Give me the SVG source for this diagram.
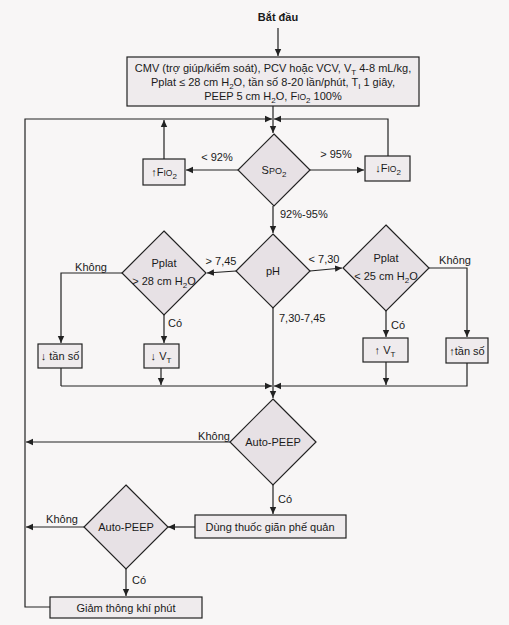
<svg xmlns="http://www.w3.org/2000/svg" width="509" height="625" viewBox="0 0 509 625">
<style>
text{font-family:"Liberation Sans","Noto Sans",sans-serif;font-size:11px;fill:#1a1a1a}
.c{text-anchor:middle}
.b{font-weight:bold}
.dia{fill:#e7e1e5;stroke:#222;stroke-width:1.2}
.box{fill:#efebed;stroke:#222;stroke-width:1.2}
.ln{fill:none;stroke:#222;stroke-width:1.2;marker-end:url(#ah)}
.pl{fill:none;stroke:#222;stroke-width:1.2}
</style>
<defs>
<marker id="ah" markerWidth="8" markerHeight="8" refX="7" refY="4" orient="auto" markerUnits="userSpaceOnUse">
<path d="M0,0.8 L7,4 L0,7.2 z" fill="#222"/>
</marker>
</defs>
<rect width="509" height="625" fill="#f8f6f6"/>

<g id="connectors">
<path class="ln" d="M278 28 V56"/>
<path class="ln" d="M273 106 V133"/>
<path class="ln" d="M50 607 H25 V119 H272"/>
<path class="ln" d="M164 159 V120"/>
<path class="ln" d="M388 156 V119 H274"/>
<path class="ln" d="M238 170 H186"/>
<path class="ln" d="M310 170 H364"/>
<path class="ln" d="M273 206 V233"/>
<path class="ln" d="M236 271 L207 273"/>
<path class="ln" d="M310 271 L342 268"/>
<path class="ln" d="M122 273 H61 V343"/>
<path class="ln" d="M164 315 V343"/>
<path class="pl" d="M61 368 V386"/>
<path class="ln" d="M61 386 H272"/>
<path class="ln" d="M161 368 V385"/>
<path class="ln" d="M429 268 H467 V337"/>
<path class="ln" d="M386 311 V337"/>
<path class="ln" d="M386 362 V385"/>
<path class="ln" d="M467 363 V386 H274"/>
<path class="ln" d="M273 308 V398"/>
<path class="ln" d="M230 442 H26"/>
<path class="ln" d="M273 485 V514"/>
<path class="ln" d="M195 527 H168"/>
<path class="ln" d="M85 527 H26"/>
<path class="ln" d="M126 569 V596"/>
<text class="c" x="217" y="161">&lt; 92%</text>
<text class="c" x="336" y="158">&gt; 95%</text>
<text x="280" y="218">92%-95%</text>
<text class="c" x="221" y="265">&gt; 7,45</text>
<text class="c" x="324" y="263">&lt; 7,30</text>
<text class="c" x="91" y="271">Không</text>
<text class="c" x="455" y="264">Không</text>
<text x="168" y="327">Có</text>
<text x="391" y="329">Có</text>
<text x="279" y="322">7,30-7,45</text>
<text class="c" x="214" y="440">Không</text>
<text x="278" y="503">Có</text>
<text class="c" x="62" y="523">Không</text>
<text x="132" y="584">Có</text>
</g>

<g id="start"><text class="c b" x="278" y="21">Bắt đầu</text></g>

<g id="cmv">
<rect class="box" x="127" y="57" width="292" height="49"/>
<text class="c" x="273" y="72">CMV (trợ giúp/kiểm soát), PCV hoặc VCV, V<tspan dy="3" font-size="8">T</tspan><tspan dy="-3"> 4-8 mL/kg,</tspan></text>
<text class="c" x="273" y="86">Pplat ≤ 28 cm H<tspan dy="3" font-size="8">2</tspan><tspan dy="-3">O, tần số 8-20 lần/phút, T</tspan><tspan dy="3" font-size="8">I</tspan><tspan dy="-3"> 1 giây,</tspan></text>
<text class="c" x="273" y="100">PEEP 5 cm H<tspan dy="3" font-size="8">2</tspan><tspan dy="-3">O, F</tspan><tspan font-size="8.5">IO</tspan><tspan dy="3" font-size="8">2</tspan><tspan dy="-3"> 100%</tspan></text>
</g>

<g id="spo2">
<path class="dia" d="M274 134 L310 170 L274 206 L238 170 z"/>
<text class="c" x="274" y="174">S<tspan font-size="9">PO</tspan><tspan dy="3" font-size="8">2</tspan></text>
</g>

<g id="up-fio2">
<rect class="box" x="143" y="159" width="42" height="26"/>
<text class="c" x="164" y="176">↑F<tspan font-size="8.5">IO</tspan><tspan dy="3" font-size="8">2</tspan></text>
</g>

<g id="down-fio2">
<rect class="box" x="365" y="156" width="45" height="25"/>
<text class="c" x="388" y="172">↓F<tspan font-size="8.5">IO</tspan><tspan dy="3" font-size="8">2</tspan></text>
</g>

<g id="ph">
<path class="dia" d="M273 234 L310 271 L273 308 L236 271 z"/>
<text class="c" x="273" y="275">pH</text>
</g>

<g id="pplat-high">
<path class="dia" d="M164 231 L206 273 L164 315 L122 273 z"/>
<text class="c" x="164" y="267">Pplat</text>
<text class="c" x="164" y="285">&gt; 28 cm H<tspan dy="3" font-size="8">2</tspan><tspan dy="-3">O</tspan></text>
</g>

<g id="pplat-low">
<path class="dia" d="M386 225 L429 268 L386 311 L343 268 z"/>
<text class="c" x="386" y="262">Pplat</text>
<text class="c" x="386" y="280">&lt; 25 cm H<tspan dy="3" font-size="8">2</tspan><tspan dy="-3">O</tspan></text>
</g>

<g id="down-rate">
<rect class="box" x="38" y="344" width="44" height="24"/>
<text class="c" x="60" y="360">↓ tần số</text>
</g>

<g id="down-vt">
<rect class="box" x="144" y="344" width="35" height="24"/>
<text class="c" x="161" y="360">↓ V<tspan dy="3" font-size="8">T</tspan></text>
</g>

<g id="up-vt">
<rect class="box" x="363" y="338" width="45" height="24"/>
<text class="c" x="385" y="354">↑ V<tspan dy="3" font-size="8">T</tspan></text>
</g>

<g id="up-rate">
<rect class="box" x="446" y="338" width="42" height="25"/>
<text class="c" x="467" y="355">↑tần số</text>
</g>

<g id="autopeep1">
<path class="dia" d="M273 399 L316 442 L273 485 L230 442 z"/>
<text class="c" x="273" y="446">Auto-PEEP</text>
</g>

<g id="bronchodilator">
<rect class="box" x="195" y="515" width="151" height="23"/>
<text class="c" x="270" y="531">Dùng thuốc giãn phế quản</text>
</g>

<g id="autopeep2">
<path class="dia" d="M126 485 L168 527 L126 569 L84 527 z"/>
<text class="c" x="126" y="531">Auto-PEEP</text>
</g>

<g id="reduce-mv">
<rect class="box" x="50" y="597" width="152" height="21"/>
<text class="c" x="126" y="612">Giảm thông khí phút</text>
</g>
</svg>
